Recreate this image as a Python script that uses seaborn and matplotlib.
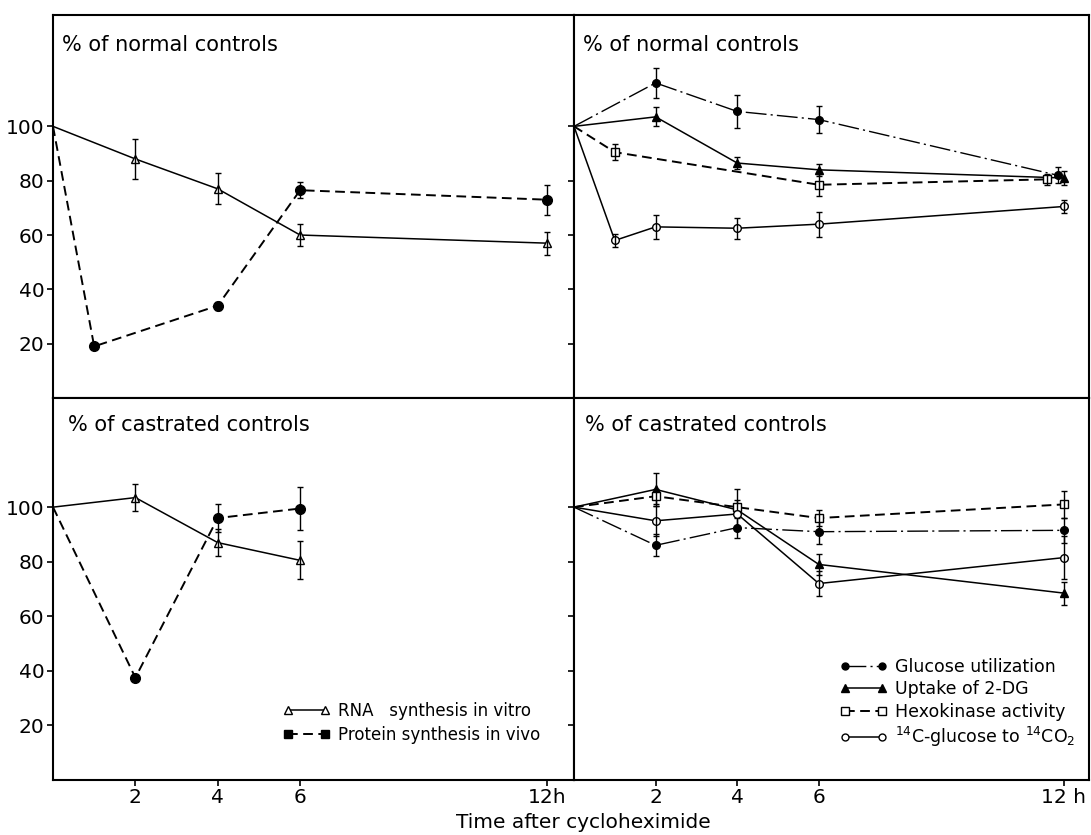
import numpy as np
import pandas as pd
import matplotlib
matplotlib.use("Agg")
import matplotlib.pyplot as plt
from matplotlib.lines import Line2D
import seaborn as sns

# ---- data (% of controls, hours after cycloheximide) ----
# left column: RNA / protein synthesis
rna_norm_h = [0, 2, 4, 6, 12]
rna_norm = [100, 88, 77, 60, 57]
rna_norm_err = [0, 7.5, 5.7, 4.0, 4.2]

prot_norm_h = [0, 1, 4, 6, 12]
prot_norm = [100, 19, 34, 76.5, 73]
prot_norm_err = [0, 0, 1.5, 3.0, 5.5]

rna_cast_h = [0, 2, 4, 6]
rna_cast = [100, 103.5, 87, 80.5]
rna_cast_err = [0, 5.0, 5.0, 7.0]

prot_cast_h = [0, 2, 4, 6]
prot_cast = [100, 37.5, 96, 99.5]
prot_cast_err = [0, 0, 5.0, 8.0]

# right column: glucose metabolism
gluc_norm_h = [0, 2, 4, 6, 11.85]
gluc_norm = [100, 116, 105.5, 102.5, 82]
gluc_norm_err = [0, 5.5, 6.0, 5.0, 3.0]

dg_norm_h = [0, 2, 4, 6, 12]
dg_norm = [100, 103.5, 86.5, 84, 81]
dg_norm_err = [0, 3.5, 2.3, 2.3, 2.5]

hk_norm_h = [0, 1, 6, 11.6]
hk_norm = [100, 90.5, 78.5, 80.5]
hk_norm_err = [0, 3.0, 4.0, 2.0]

co2_norm_h = [0, 1, 2, 4, 6, 12]
co2_norm = [100, 58, 63, 62.5, 64, 70.5]
co2_norm_err = [0, 2.5, 4.3, 3.8, 4.6, 2.5]

cast_h = [0, 2, 4, 6, 12]
gluc_cast = [100, 86, 92.5, 91, 91.5]
gluc_cast_err = [0, 4.0, 3.7, 4.5, 4.6]
dg_cast = [100, 106.5, 99, 79, 68.5]
dg_cast_err = [0, 6.0, 7.5, 4.0, 4.2]
hk_cast = [100, 104, 100, 96, 101]
hk_cast_err = [0, 2.8, 2.5, 2.8, 4.9]
co2_cast = [100, 95, 97.5, 72, 81.5]
co2_cast_err = [0, 5.5, 0, 4.7, 8.0]

x_ticks = [2, 4, 6, 12]
y_ticks = [20, 40, 60, 80, 100]

SOLID = "-"
DASHED = (0, (5, 2.8))
DASHDOT = (0, (15, 3, 1.5, 3))

sns.set_theme(style="ticks")
plt.rcParams["font.family"] = ["DejaVu Sans"]
plt.rcParams["text.color"] = "black"


def line_width(ls):
    if ls == DASHED:
        return 1.4
    if ls == DASHDOT:
        return 1.0
    return 1.1


def draw_series(ax, hours, values, errs, marker, ls, filled, ms=6):
    """Line with markers (none at t=0) plus error bars."""
    df = pd.DataFrame({"hours": hours, "value": values})
    sns.lineplot(
        data=df, x="hours", y="value", ax=ax, color="black", lw=line_width(ls),
        linestyle=ls, marker=marker, markersize=ms,
        markerfacecolor="black" if filled else "white",
        markeredgecolor="black", markeredgewidth=1.0,
        markevery=list(range(1, len(hours))), errorbar=None,
    )
    h = np.asarray(hours, dtype=float)
    v = np.asarray(values, dtype=float)
    e = np.asarray(errs, dtype=float)
    m = e > 0
    ax.errorbar(h[m], v[m], yerr=e[m], fmt="none", ecolor="black",
                elinewidth=1.0, capsize=2.5, capthick=1.0)


fig = plt.figure(figsize=(10.91, 8.35), dpi=100)
W, H = 1091, 835
ax_tl = fig.add_axes([53 / W, 1 - 398 / H, 521 / W, 383 / H])
ax_tr = fig.add_axes([574 / W, 1 - 398 / H, 515 / W, 383 / H])
ax_bl = fig.add_axes([53 / W, 1 - 780 / H, 521 / W, 382 / H])
ax_br = fig.add_axes([574 / W, 1 - 780 / H, 515 / W, 382 / H])

# left column
draw_series(ax_tl, rna_norm_h, rna_norm, rna_norm_err, "^", SOLID, False)
draw_series(ax_tl, prot_norm_h, prot_norm, prot_norm_err, "o", DASHED, True, 7)
draw_series(ax_bl, rna_cast_h, rna_cast, rna_cast_err, "^", SOLID, False)
draw_series(ax_bl, prot_cast_h, prot_cast, prot_cast_err, "o", DASHED, True, 7)

# right column
draw_series(ax_tr, gluc_norm_h, gluc_norm, gluc_norm_err, "o", DASHDOT, True, 5.5)
draw_series(ax_tr, dg_norm_h, dg_norm, dg_norm_err, "^", SOLID, True, 6)
draw_series(ax_tr, hk_norm_h, hk_norm, hk_norm_err, "s", DASHED, False, 6)
draw_series(ax_tr, co2_norm_h, co2_norm, co2_norm_err, "o", SOLID, False, 5.5)

draw_series(ax_br, cast_h, gluc_cast, gluc_cast_err, "o", DASHDOT, True, 5.5)
draw_series(ax_br, cast_h, dg_cast, dg_cast_err, "^", SOLID, True, 6)
draw_series(ax_br, cast_h, hk_cast, hk_cast_err, "s", DASHED, False, 6)
draw_series(ax_br, cast_h, co2_cast, co2_cast_err, "o", SOLID, False, 5.5)

for ax in (ax_tl, ax_tr, ax_bl, ax_br):
    ax.set_xlabel("")
    ax.set_ylabel("")
    ax.set_xticks(x_ticks)
    ax.set_yticks(y_ticks)
    ax.tick_params(direction="out", length=4, width=1.2, colors="black",
                   labelsize=14.5, pad=2)
    for sp in ax.spines.values():
        sp.set_linewidth(1.5)
        sp.set_color("black")

ax_tl.set_xlim(0, 12.65)
ax_bl.set_xlim(0, 12.65)
ax_tr.set_xlim(0, 12.62)
ax_br.set_xlim(0, 12.62)
ax_tl.set_ylim(0, 141)
ax_tr.set_ylim(0, 141)
ax_bl.set_ylim(0, 140)
ax_br.set_ylim(0, 140)

ax_tl.tick_params(labelbottom=False)
ax_tr.tick_params(labelbottom=False, labelleft=False)
ax_br.tick_params(labelleft=False)
ax_bl.set_xticklabels(["2", "4", "6", "12h"])
ax_br.set_xticklabels(["2", "4", "6", "12 h"])

title_kw = dict(fontsize=15, va="center", color="black")
ax_tl.text(0.018, 0.922, "% of normal controls", transform=ax_tl.transAxes, **title_kw)
ax_tr.text(0.018, 0.922, "% of normal controls", transform=ax_tr.transAxes, **title_kw)
ax_bl.text(0.028, 0.929, "% of castrated controls", transform=ax_bl.transAxes, **title_kw)
ax_br.text(0.021, 0.929, "% of castrated controls", transform=ax_br.transAxes, **title_kw)

fig.text(583 / W, 1 - 823 / H, "Time after cycloheximide", ha="center",
         va="center", fontsize=14.5, color="black")


# legends
def handle(marker, ls, filled, ms=6):
    return Line2D([], [], color="black", lw=line_width(ls), linestyle=ls,
                  marker=marker, markersize=ms,
                  markerfacecolor="black" if filled else "white",
                  markeredgecolor="black", markeredgewidth=1.0)


left_handles = [handle("^", SOLID, False), handle("s", DASHED, True)]
left_labels = ["RNA   synthesis in vitro", "Protein synthesis in vivo"]
ax_bl.legend(left_handles, left_labels, loc="upper left",
             bbox_to_anchor=((283 - 53) / 521, (780 - 702) / 382),
             frameon=False, fontsize=12, numpoints=2, handlelength=2.8,
             handletextpad=0.5, labelspacing=0.35, borderpad=0, borderaxespad=0)

right_handles = [handle("o", DASHDOT, True, 5), handle("^", SOLID, True),
                 handle("s", DASHED, False, 5.5), handle("o", SOLID, False, 5)]
right_labels = ["Glucose utilization", "Uptake of 2-DG", "Hexokinase activity",
                r"$^{14}$C-glucose to $^{14}$CO$_2$"]
ax_br.legend(right_handles, right_labels, loc="upper left",
             bbox_to_anchor=((840 - 574) / 515, (780 - 658) / 382),
             frameon=False, fontsize=12.5, numpoints=2, handlelength=2.7,
             handletextpad=0.45, labelspacing=0.25, borderpad=0, borderaxespad=0)

fig.savefig("out.png", dpi=100)
